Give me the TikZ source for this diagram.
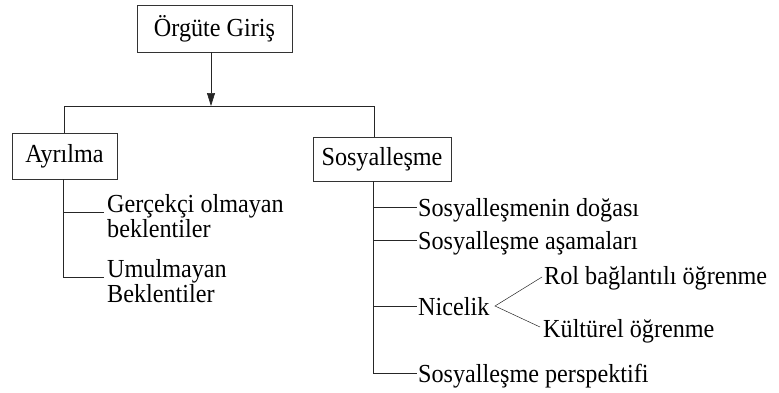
\documentclass[tikz,border=0pt]{standalone}
\usepackage{fontspec}
\setmainfont[FakeStretch=0.93]{Liberation Serif}
\usetikzlibrary{arrows.meta}
\newcommand{\bigtxt}{\fontsize{26}{25}\selectfont}
\begin{document}
\begin{tikzpicture}[x=1pt,y=-1pt,
  box/.style={draw=black!80,line width=0.7pt,inner sep=0pt,font=\bigtxt},
  lbl/.style={inner sep=0pt,anchor=base west,font=\bigtxt},
  lbltwo/.style={lbl,align=left},
  conn/.style={draw=black!85,line width=0.7pt}]
\useasboundingbox (0,0) rectangle (779,392);
% boxes
\node[box,minimum width=155pt,minimum height=47pt] (og) at (214.5,28.5) {Örgüte Giriş};
\node[box,minimum width=105pt,minimum height=46pt] (ay) at (64.5,156) {Ayrılma};
\node[box,minimum width=138pt,minimum height=44pt] (sos) at (382,159) {Sosyalleşme};
% junction
\coordinate (j) at (211,106);
\coordinate (jl) at (64.5,106);
\coordinate (jr) at (374,106);
\draw[conn,-{Triangle[length=13pt,width=8pt]}] (og.south -| j) -- (j);
\draw[conn] (ay.north) -- (jl) -- (jr) -- (jr |- sos.north);
% Ayrilma subtree
\coordinate (a0) at (63,179);
\coordinate (a1) at (63,212);
\coordinate (a2) at (63,277);
\node[lbltwo] (g1) at (107,237) {Gerçekçi olmayan\\beklentiler};
\node[lbltwo] (g2) at (107,302) {Umulmayan\\Beklentiler};
\draw[conn] (a0 |- ay.south) -- (a2) -- (104,277);
\draw[conn] (a1) -- (104,212);
% Sosyallesme subtree
\coordinate (s0) at (373,181);
\coordinate (s1) at (373,207);
\coordinate (s2) at (373,240);
\coordinate (s3) at (373,306);
\coordinate (s4) at (373,373);
\node[lbl] (t1) at (418,216) {Sosyalleşmenin doğası};
\node[lbl] (t2) at (418,249) {Sosyalleşme aşamaları};
\node[lbl] (t3) at (418,315) {Nicelik};
\node[lbl] (t4) at (418,382) {Sosyalleşme perspektifi};
\draw[conn] (s0 |- sos.south) -- (s4) -- (417,373);
\draw[conn] (s1) -- (417,207);
\draw[conn] (s2) -- (417,240);
\draw[conn] (s3) -- (417,306);
% Nicelik branches
\coordinate (apex) at (495,306);
\node[lbl] (rol) at (544,284) {Rol bağlantılı öğrenme};
\node[lbl] (kul) at (543,337) {Kültürel öğrenme};
\draw[conn,line width=0.5pt] (542,277) -- (apex) -- (540,327);
\end{tikzpicture}
\end{document}
